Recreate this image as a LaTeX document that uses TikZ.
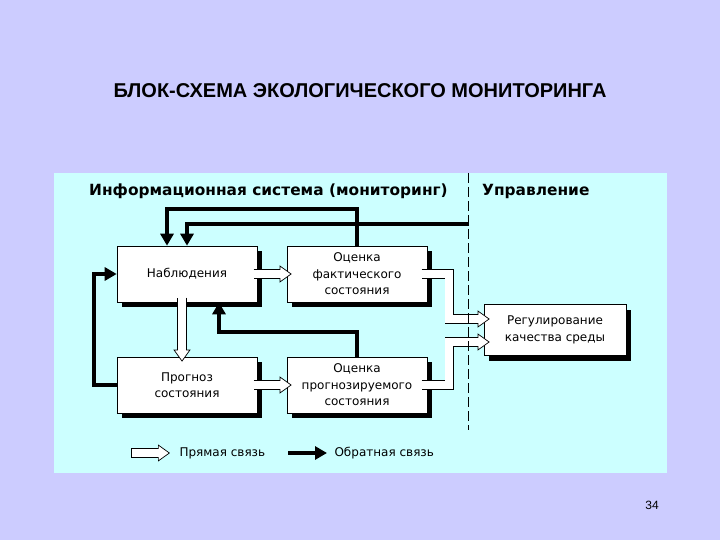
\documentclass[tikz,border=0pt]{standalone}
\usepackage{fontspec}
\setmainfont{DejaVu Sans}
\newfontfamily\arialfont{Liberation Sans}
\usepackage{tikz}
\usetikzlibrary{arrows.meta,positioning,calc,shadows}
\definecolor{slidebg}{HTML}{CCCCFF}
\definecolor{panelbg}{HTML}{CCFFFF}
% hollow arrow: tip, dark rim, white core
\newcommand{\fwd}[1]{%
  \draw[fwdtip] #1;
  \draw[fwdrim] #1;
  \draw[fwdcore] #1;}

\begin{document}
\begin{tikzpicture}[x=1pt,y=-1pt,>=Latex,
  blk/.style={draw,line width=0.6pt,fill=white,minimum width=140pt,minimum height=56pt,
    align=center,font=\fontsize{12}{16.5}\selectfont,
    drop shadow={shadow xshift=5pt,shadow yshift=-5pt,fill=black,opacity=1}},
  fbk/.style={line width=4pt,-{Triangle[length=12pt,width=13pt]}},
  fwdtip/.style={line width=0.7pt,-{Triangle[length=12pt,width=17pt,fill=white]}},
  fwdrim/.style={line width=9.6pt,shorten >=12pt,shorten <=-0.8pt},
  fwdcore/.style={white,line width=8pt,shorten >=10.5pt},
  head/.style={font=\fontsize{15.4}{18}\selectfont\bfseries,anchor=west,inner sep=0pt},
  lab/.style={font=\fontsize{12}{14}\selectfont,anchor=west}]
\useasboundingbox (0,0) rectangle (720,540);
\fill[slidebg] (0,0) rectangle (720,540);
\fill[panelbg] (54,173) rectangle (667,473);
\node[font=\arialfont\fontsize{20}{22}\selectfont\bfseries] (title) at (360,91) {БЛОК-СХЕМА ЭКОЛОГИЧЕСКОГО МОНИТОРИНГА};
\node[head] (info) at (89,191) {Информационная система (мониторинг)};
\node[head] (ctrl) at (482,191) {Управление};
% blocks
\node[blk] (obs) at (187,274) {Наблюдения};
\node[blk] (evf) at (357,274) {Оценка\\фактического\\состояния};
\node[blk] (prg) at (187,385) {Прогноз\\состояния};
\node[blk] (evp) at (357,385) {Оценка\\прогнозируемого\\состояния};
\node[blk,minimum width=142pt,minimum height=51pt] (reg) at (555,330) {Регулирование\\качества среды};
% direct links
\fwd{([xshift=-3pt]obs.east) -- ([xshift=5pt]evf.west)}
\fwd{([xshift=-3pt]prg.east) -- ([xshift=5pt]evp.west)}
\fwd{([xshift=-5pt,yshift=4pt]obs.south) -- ([xshift=-5pt,yshift=-5pt]prg.north)}
\fwd{([xshift=-5pt]evf.east) -- ++(27,0) |- ([xshift=6pt,yshift=11pt]reg.west)}
\fwd{([xshift=-5pt]evp.east) -- ++(27,0) |- ([xshift=6pt,yshift=-12pt]reg.west)}
% border between the two parts
\coordinate (dtop) at (468,173);
\coordinate (dbot) at (468,430);
\draw[line width=0.8pt,dash pattern=on 10pt off 4pt] (dtop) -- (dbot);
% feedback
\coordinate (ctl) at (469,224);
\draw[fbk] (evf.north) -- ++(0,-37) -| ([xshift=-20pt]obs.north);
\draw[fbk] (ctl) -| (obs.north);
\draw[fbk] (evp.north) -- ++(0,-25) -| ([xshift=32pt]obs.south);
\draw[fbk] (prg.west) -- ++(-23,0) |- (obs.west);
% legend
\node[lab] (lgfwd) at (176,453) {Прямая связь};
\coordinate (lgfs) at (132,453);
\fwd{(lgfs) -- ([xshift=-6pt]lgfwd.west)}
\node[lab] (lgfbk) at (331,453) {Обратная связь};
\coordinate (lgbs) at (288,453);
\draw[fbk] (lgbs) -- ([xshift=-4pt]lgfbk.west);
\node[font=\arialfont\fontsize{12}{14}\selectfont] (page) at (652,505) {34};
\end{tikzpicture}
\end{document}
